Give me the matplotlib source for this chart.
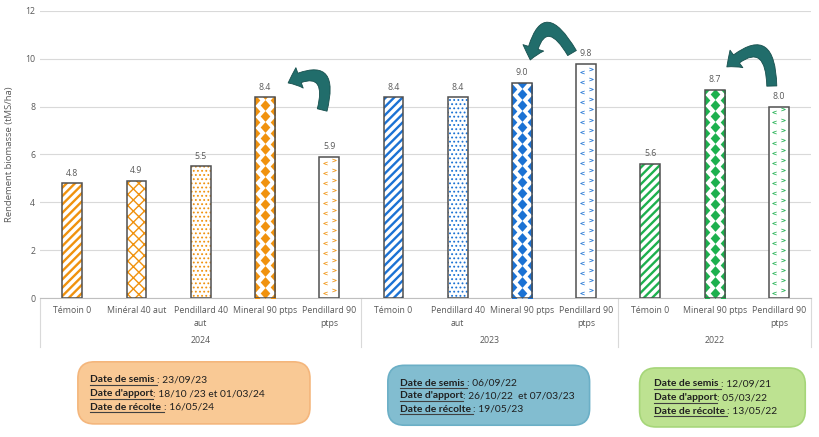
import numpy as np
import matplotlib.pyplot as plt
from matplotlib.patches import FancyBboxPatch
from matplotlib.path import Path

years = ['2024', '2023', '2022']
cats_2024 = ['Témoin 0', 'Minéral 40 aut', 'Pendillard 40\naut', 'Mineral 90 ptps', 'Pendillard 90\nptps']
vals_2024 = [4.8, 4.9, 5.5, 8.4, 5.9]
cats_2023 = ['Témoin 0', 'Pendillard 40\naut', 'Mineral 90 ptps', 'Pendillard 90\nptps']
vals_2023 = [8.4, 8.4, 9.0, 9.8]
cats_2022 = ['Témoin 0', 'Mineral 90 ptps', 'Pendillard 90\nptps']
vals_2022 = [5.6, 8.7, 8.0]

# box texts under each year
info_2024 = [('Date de semis ', ': 23/09/23'), ("Date d'apport", ': 18/10 /23 et 01/03/24'), ('Date de récolte ', ': 16/05/24')]
info_2023 = [('Date de semis ', ': 06/09/22'), ("Date d'apport", ': 26/10/22  et 07/03/23'), ('Date de récolte ', ': 19/05/23')]
info_2022 = [('Date de semis ', ': 12/09/21'), ("Date d'apport", ': 05/03/22'), ('Date de récolte ', ': 13/05/22')]

year_colors = {'2024': '#F0920E', '2023': '#1B72D4', '2022': '#1DB04E'}
groups = [('2024', cats_2024, vals_2024), ('2023', cats_2023, vals_2023), ('2022', cats_2022, vals_2022)]

plt.rcParams['font.family'] = ['Open Sans', 'DejaVu Sans']
grey_txt = '#595959'
edge = '#505050'
W = 0.31

fig = plt.figure(figsize=(8.2, 4.37), dpi=100)
ax = fig.add_axes([0.049, 0.318, 0.940, 0.657])
ax.set_xlim(-0.5, 11.5)
ax.set_ylim(0, 12)
ax.set_yticks(np.arange(0, 13, 2))
ax.grid(axis='y', color='#D9D9D9', lw=0.8)
ax.set_axisbelow(True)
for s in ['top', 'right', 'left']:
    ax.spines[s].set_visible(False)
ax.spines['bottom'].set_color('#BFBFBF')
ax.tick_params(axis='both', length=0, labelsize=6.3, colors=grey_txt)
ax.tick_params(axis='x', pad=6)
ax.set_ylabel('Rendement biomasse (tMS/ha)', fontsize=6.8, color=grey_txt, labelpad=8)

diamond = Path([(0, 1), (0.9, 0), (0, -1), (-0.9, 0), (0, 1)])

xs, labels = [], []
pos = 0
bounds = [-0.5]
year_centers = []
for year, cats, vals in groups:
    col = year_colors[year]
    start = pos
    for cat, v in zip(cats, vals):
        xs.append(pos)
        labels.append(cat)
        if 'Témoin' in cat:
            with plt.rc_context({'hatch.linewidth': 1.7}):
                ax.bar(pos, v, W, color='white', edgecolor=col, hatch='////', lw=0)
        elif cat.startswith('Minéral 40'):
            with plt.rc_context({'hatch.linewidth': 1.0}):
                ax.bar(pos, v, W, color='white', edgecolor=col, hatch='xxx', lw=0)
        elif cat.startswith('Pendillard 40'):
            with plt.rc_context({'hatch.linewidth': 0.8}):
                ax.bar(pos, v, W, color='white', edgecolor=col, hatch='....', lw=0)
        else:
            ax.bar(pos, v, W, color='white', lw=0)
        rect = ax.bar(pos, v, W, fill=False, edgecolor=edge, lw=1.1, zorder=4)[0]
        if cat.startswith('Mineral 90'):
            p = 0.46
            yc = np.arange(p / 2, v + p, p)
            ye = np.arange(0, v + p, p)
            sc1 = ax.scatter(np.full(len(yc), pos), yc, marker=diamond, s=60, color=col, lw=0, zorder=3)
            sc2 = ax.scatter(np.concatenate([np.full(len(ye), pos - W / 2), np.full(len(ye), pos + W / 2)]),
                             np.concatenate([ye, ye]), marker=diamond, s=60, color=col, lw=0, zorder=3)
            for sc in (sc1, sc2):
                sc.set_clip_path(rect)
        if cat.startswith('Pendillard 90'):
            p = 0.42
            y1 = np.arange(0.2, v, p)
            y2 = np.arange(0.32, v, p)
            sa = ax.scatter(np.full(len(y1), pos - W * 0.22), y1, marker='$<$', s=8, color=col, lw=0.15, zorder=3)
            sb = ax.scatter(np.full(len(y2), pos + W * 0.22), y2, marker='$>$', s=8, color=col, lw=0.15, zorder=3)
            for sc in (sa, sb):
                sc.set_clip_path(rect)
        ax.annotate(f'{v:.1f}', (pos, v), xytext=(0, 4), textcoords='offset points',
                    ha='center', va='bottom', fontsize=6.3, color=grey_txt)
        pos += 1
    bounds.append(pos - 0.5)
    year_centers.append((start + pos - 1) / 2)

ax.set_xticks(xs, labels, linespacing=1.5)

trans = ax.get_xaxis_transform()
for b in bounds:
    ax.plot([b, b], [0, -0.172], transform=trans, color='#D9D9D9', lw=0.8, clip_on=False)
for yc, (year, _, _) in zip(year_centers, groups):
    ax.text(yc, -0.147, year, transform=trans, ha='center', va='center', fontsize=6.3, color=grey_txt)

# curved arrows
teal = '#216D6B'
arrows = [((3.89, 7.86), (3.36, 8.99), 1.1),
          ((7.78, 10.24), (7.13, 9.95), 1.3),
          ((10.89, 8.86), (10.19, 9.66), 1.1)]
for tail, head, rad in arrows:
    ax.annotate('', xy=head, xytext=tail,
                arrowprops=dict(arrowstyle='simple,head_length=0.75,head_width=1.3,tail_width=0.6',
                                connectionstyle=f'arc3,rad={rad}', fc=teal, ec='#174F4D', lw=0.6,
                                mutation_scale=12, shrinkA=0, shrinkB=0))

# info boxes
boxes = [(info_2024, (0.095, 0.030, 0.283, 0.142), '#F9C995', '#F4B67C', 90, [380, 394, 407]),
         (info_2023, (0.473, 0.027, 0.246, 0.137), '#82BDD0', '#6BAFC6', 400, [383, 396, 409]),
         (info_2022, (0.780, 0.023, 0.202, 0.135), '#BDE291', '#A6D679', 654, [384, 398, 411])]
for info, (x0, y0, w, h), fc, ec, tx, tys in boxes:
    fig.patches.append(FancyBboxPatch((x0, y0), w, h, boxstyle='round,pad=0,rounding_size=0.02',
                                      transform=fig.transFigure, fc=fc, ec=ec, lw=1.2,
                                      mutation_aspect=820 / 437))
fig.canvas.draw()
r = fig.canvas.get_renderer()
for info, (x0, y0, w, h), fc, ec, tx, tys in boxes:
    for (lab, val), ty in zip(info, tys):
        t = fig.text(tx / 820, 1 - ty / 437, lab, fontsize=7.4, fontweight='bold', family=['Lato', 'DejaVu Sans'],
                     color='#1F1F1F', va='center', ha='left')
        bb = t.get_window_extent(r)
        fig.add_artist(plt.Line2D([bb.x0 / 820, bb.x1 / 820], [(bb.y0 - 0.8) / 437] * 2,
                                  transform=fig.transFigure, color='#404040', lw=0.8))
        fig.text(bb.x1 / 820, 1 - ty / 437, val, fontsize=7.4, family=['Lato', 'DejaVu Sans'],
                 color='#1F1F1F', va='center', ha='left')

fig.savefig('out.png', dpi=100)
